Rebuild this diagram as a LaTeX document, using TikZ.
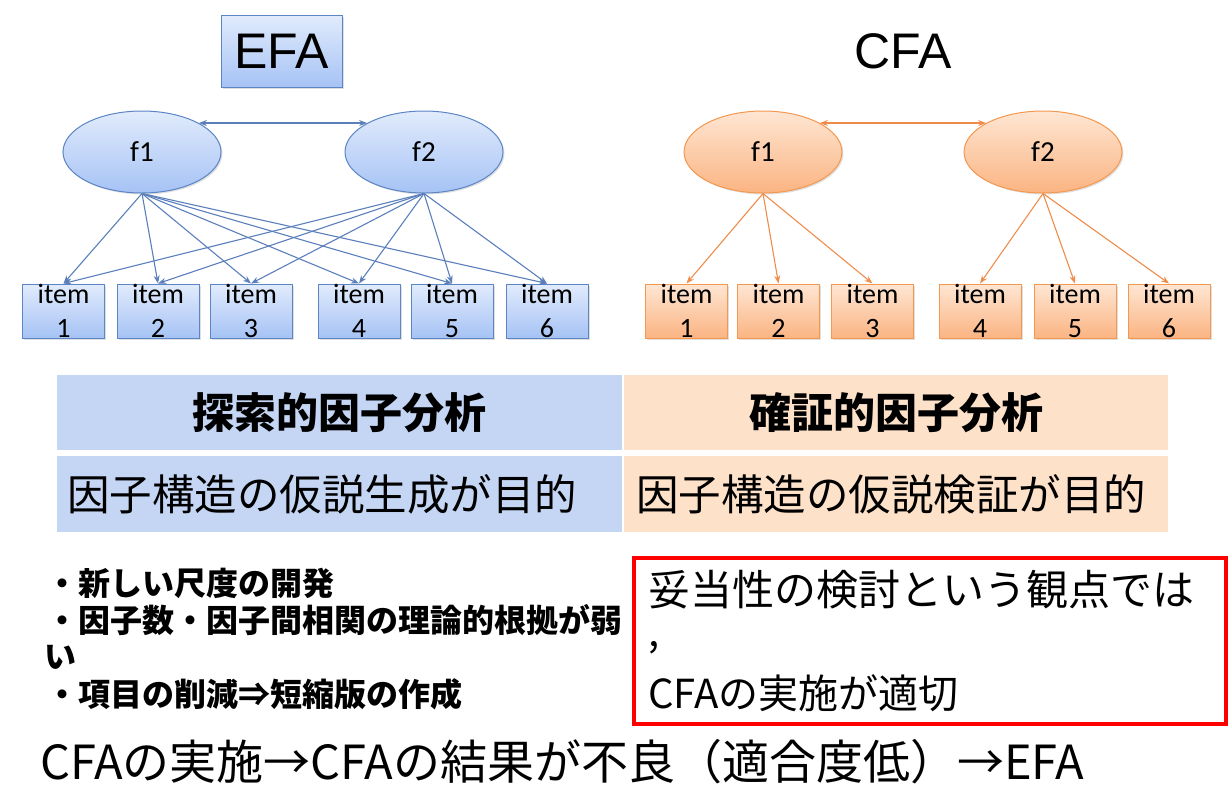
\documentclass[tikz,border=0pt]{standalone}
\usepackage{fontspec}
\usetikzlibrary{shapes.geometric,arrows.meta,shadows}
\newfontfamily\jpfont{Noto Sans CJK JP}
\newfontfamily\itemfont{Carlito}
\newfontfamily\titlefont{Liberation Sans}
\definecolor{efatop}{HTML}{E1EBFC}
\definecolor{efabot}{HTML}{A6C3F5}
\definecolor{efaline}{HTML}{5B85C4}
\definecolor{efaarrow}{HTML}{5A7FBB}
\definecolor{cfatop}{HTML}{FEE6D3}
\definecolor{cfabot}{HTML}{FBB482}
\definecolor{cfaline}{HTML}{F4974F}
\definecolor{cfaarrow}{HTML}{F08C4B}
\definecolor{efacell}{HTML}{C5D6F4}
\definecolor{cfacell}{HTML}{FDE1C9}

\begin{document}
\begin{tikzpicture}[x=1pt,y=-1pt]
\tikzstyle{every node}+=[inner sep=0pt]
\tikzstyle{efashape}=[draw=efaline, line width=1pt, top color=efatop, bottom color=efabot, drop shadow={opacity=0.25,shadow xshift=1.5pt,shadow yshift=-1.5pt}]
\tikzstyle{cfashape}=[draw=cfaline, line width=1pt, top color=cfatop, bottom color=cfabot, drop shadow={opacity=0.25,shadow xshift=1.5pt,shadow yshift=-1.5pt}]
\tikzstyle{factor}=[ellipse, minimum width=158pt, minimum height=82pt, font=\itemfont\fontsize{29}{32}\selectfont]
\tikzstyle{itembox}=[rectangle, minimum width=82pt, minimum height=54pt, align=center, font=\itemfont\fontsize{28}{34}\selectfont]
\tikzstyle{efaarrowline}=[draw=efaarrow, line width=1.1pt, -{Stealth[length=8pt,width=6pt]}]
\tikzstyle{cfaarrowline}=[draw=cfaarrow, line width=1.1pt, -{Stealth[length=8pt,width=6pt]}]
\tikzstyle{cellhead}=[rectangle, minimum height=75pt, font=\jpfont\bfseries\fontsize{42}{48}\selectfont]
\tikzstyle{cellgoal}=[rectangle, minimum height=76pt]
\tikzstyle{goaltext}=[anchor=west, font=\jpfont\fontsize{42.5}{48}\selectfont]
\tikzstyle{pointtext}=[anchor=west, font=\jpfont\bfseries\fontsize{32}{36}\selectfont]
\useasboundingbox (0,0) rectangle (1230,804);
\node [efashape, rectangle, minimum width=121pt, minimum height=72pt, font=\titlefont\fontsize{50}{60}\selectfont] (efatitle) at (281.5,51) {EFA};
\node [font=\titlefont\fontsize{50}{60}\selectfont] (cfatitle) at (903,51) {CFA};
\node [efashape, factor] (ef1) at (142,152) {f1};
\node [efashape, factor] (ef2) at (424,152) {f2};
\node [efashape, itembox] (ei1) at (63.5,311) {item\\1};
\node [efashape, itembox] (ei2) at (158,311) {item\\2};
\node [efashape, itembox] (ei3) at (251,311) {item\\3};
\node [efashape, itembox] (ei4) at (359,311) {item\\4};
\node [efashape, itembox] (ei5) at (452,311) {item\\5};
\node [efashape, itembox] (ei6) at (547,311) {item\\6};
\draw [efaarrowline, {Stealth[length=8pt,width=6pt]}-{Stealth[length=8pt,width=6pt]}] (ef1.27) -- (ef2.153);
\foreach \i in {1,...,6} {
\draw [efaarrowline] (ef1.south) -- (ei\i.north);
\draw [efaarrowline] (ef2.south) -- (ei\i.north);
}
\node [cfashape, factor] (cf1) at (763,152) {f1};
\node [cfashape, factor] (cf2) at (1043,152) {f2};
\node [cfashape, itembox] (ci1) at (686.5,311) {item\\1};
\node [cfashape, itembox] (ci2) at (778.5,311) {item\\2};
\node [cfashape, itembox] (ci3) at (872.5,311) {item\\3};
\node [cfashape, itembox] (ci4) at (980,311) {item\\4};
\node [cfashape, itembox] (ci5) at (1075,311) {item\\5};
\node [cfashape, itembox] (ci6) at (1169,311) {item\\6};
\draw [cfaarrowline, {Stealth[length=8pt,width=6pt]}-{Stealth[length=8pt,width=6pt]}] (cf1.27) -- (cf2.153);
\draw [cfaarrowline] (cf1.south) -- (ci1.north);
\draw [cfaarrowline] (cf1.south) -- (ci2.north);
\draw [cfaarrowline] (cf1.south) -- (ci3.north);
\draw [cfaarrowline] (cf2.south) -- (ci4.north);
\draw [cfaarrowline] (cf2.south) -- (ci5.north);
\draw [cfaarrowline] (cf2.south) -- (ci6.north);
\node [cellhead, fill=efacell, minimum width=565pt] (efahead) at (339.5,412.5) {探索的因子分析};
\node [cellhead, fill=cfacell, minimum width=544pt] (cfahead) at (896,412.5) {確証的因子分析};
\node [cellgoal, fill=efacell, minimum width=565pt] (efagoal) at (339.5,494) {};
\node [cellgoal, fill=cfacell, minimum width=544pt] (cfagoal) at (896,494) {};
\node [goaltext] (efagoaltext) at ([xshift=10pt]efagoal.west) {因子構造の仮説生成が目的};
\node [goaltext] (cfagoaltext) at ([xshift=12pt]cfagoal.west) {因子構造の仮説検証が目的};
\node [pointtext] (point1) at (46,583) {・新しい尺度の開発};
\node [pointtext] (point2) at (46,620) {・因子数・因子間相関の理論的根拠が弱};
\node [pointtext] (point3) at (44,657) {い};
\node [pointtext] (point4) at (46,694) {・項目の削減⇒短縮版の作成};
\node [draw=red, line width=4pt, minimum width=592pt, minimum height=166pt] (advice) at (930,641) {};
\node [goaltext, font=\jpfont\fontsize{42}{48}\selectfont] (advice1) at (648,590) {妥当性の検討という観点では};
\node [goaltext, font=\jpfont\fontsize{40}{48}\selectfont] (advice2) at (648,648) {,};
\node [goaltext, font=\jpfont\fontsize{40}{48}\selectfont] (advice3) at (648,693) {CFAの実施が適切};
\node [goaltext, font=\jpfont\fontsize{47}{52}\selectfont] (flow) at (40,762) {CFAの実施→CFAの結果が不良（適合度低）→EFA};
\end{tikzpicture}
\end{document}
